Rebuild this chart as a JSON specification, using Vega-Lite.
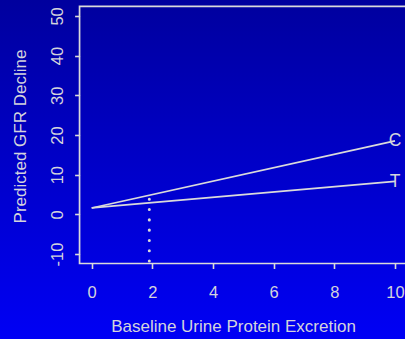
{
  "$schema": "https://vega.github.io/schema/vega-lite/v6.json",
  "width": 405,
  "height": 339,
  "autosize": {"type": "none"},
  "padding": 0,
  "background": "#0000f2",
  "view": {
    "stroke": null,
    "fill": {
      "gradient": "linear",
      "x1": 0, "y1": 0, "x2": 0, "y2": 1,
      "stops": [
        {"offset": 0, "color": "#00009e"},
        {"offset": 1, "color": "#0000f5"}
      ]
    }
  },
  "datasets": {
    "fit": [
      {"arm": "C", "protein": 0, "decline": 1.6},
      {"arm": "C", "protein": 10, "decline": 18.5},
      {"arm": "T", "protein": 0, "decline": 1.6},
      {"arm": "T", "protein": 10, "decline": 8.3}
    ],
    "ends": [
      {"arm": "C", "protein": 10, "decline": 18.4},
      {"arm": "T", "protein": 10, "decline": 8.1}
    ],
    "marker": [
      {"protein": 1.9, "low": -11.8, "high": 3.8}
    ]
  },
  "layer": [
    {
      "data": {"values": [{}]},
      "mark": {"type": "rect", "fill": null, "stroke": "#dadada", "strokeWidth": 1.7},
      "encoding": {
        "x": {"datum": -0.4, "type": "quantitative",
          "scale": {"domain": [-3.023, 10.33], "nice": false, "zero": false},
          "axis": {
            "values": [0, 2, 4, 6, 8, 10],
            "orient": "bottom",
            "offset": -75.5,
            "labelPadding": 16,
            "title": "Baseline Urine Protein Excretion",
            "titleX": 233,
            "titleY": 67.5,
            "titleBaseline": "alphabetic",
            "titleAlign": "center"
          }
        },
        "x2": {"datum": 10.4},
        "y": {"datum": -12.4, "type": "quantitative",
          "scale": {"domain": [-31.43, 54.02], "nice": false, "zero": false},
          "axis": {
            "values": [-10, 0, 10, 20, 30, 40, 50],
            "orient": "left",
            "offset": -79.6,
            "labelExpr": "toString(datum.value)",
            "labelAngle": -90,
            "labelAlign": "center",
            "labelBaseline": "alphabetic",
            "labelPadding": 12.5,
            "title": "Predicted GFR Decline",
            "titleAngle": -90,
            "titleX": -54.6,
            "titleY": 136,
            "titleBaseline": "alphabetic",
            "titleAlign": "center"
          }
        },
        "y2": {"datum": 52.4}
      }
    },
    {
      "data": {"name": "fit"},
      "mark": {"type": "line", "color": "#dadada", "strokeWidth": 1.7},
      "encoding": {
        "x": {"field": "protein", "type": "quantitative"},
        "y": {"field": "decline", "type": "quantitative"},
        "detail": {"field": "arm"}
      }
    },
    {
      "data": {"name": "ends"},
      "mark": {"type": "text", "color": "#d4d4dc", "font": "Liberation Sans", "fontSize": 17.5, "align": "center", "baseline": "middle"},
      "encoding": {
        "x": {"field": "protein", "type": "quantitative"},
        "y": {"field": "decline", "type": "quantitative"},
        "text": {"field": "arm"}
      }
    },
    {
      "data": {"name": "marker"},
      "mark": {"type": "rule", "color": "#dadada", "strokeWidth": 3, "strokeCap": "round", "strokeDash": [0.1, 10.2]},
      "encoding": {
        "x": {"field": "protein", "type": "quantitative"},
        "y": {"field": "low", "type": "quantitative"},
        "y2": {"field": "high"}
      }
    }
  ],
  "config": {
    "axis": {
      "domain": false,
      "grid": false,
      "ticks": true,
      "tickSize": 5,
      "tickWidth": 1.6,
      "tickColor": "#dadada",
      "labelColor": "#d4d4dc",
      "labelFont": "Liberation Sans",
      "labelFontSize": 16.5,
      "labelFlush": false,
      "labelOverlap": false,
      "titleColor": "#d4d4dc",
      "titleFont": "Liberation Sans",
      "titleFontSize": 17,
      "titleFontWeight": "normal"
    }
  }
}
